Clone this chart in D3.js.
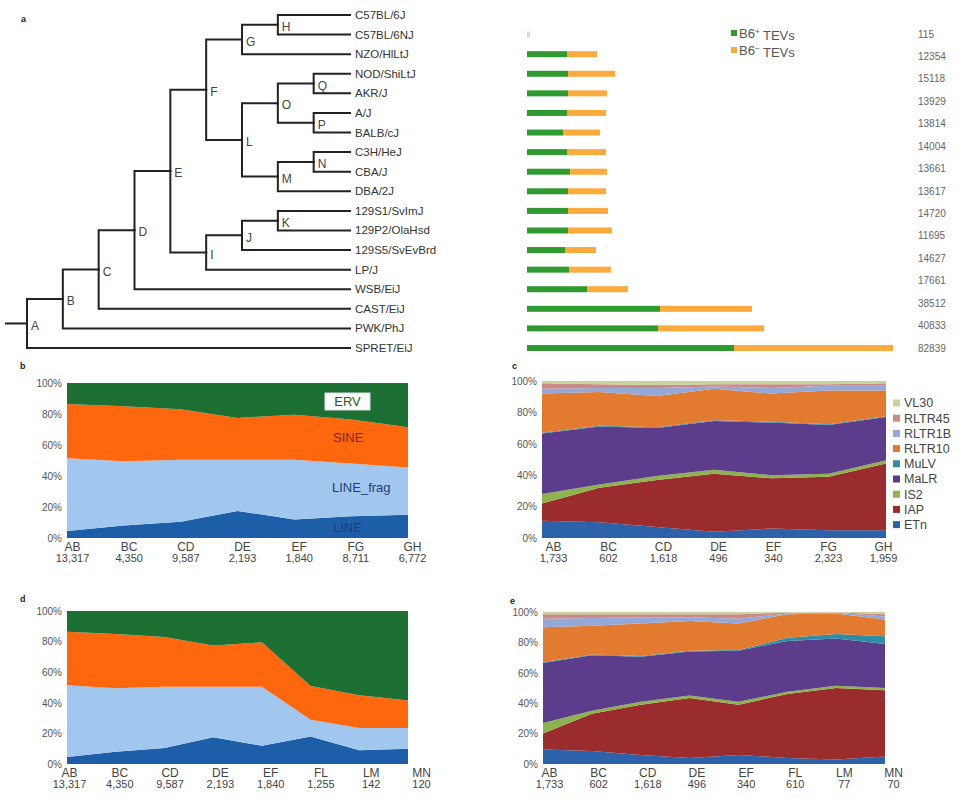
<!DOCTYPE html>
<html>
<head>
<meta charset="utf-8">
<script src="https://cdn.jsdelivr.net/npm/d3@7"></script>
<style>
  body { margin: 0; background: #fff; }
  svg { font-family: "Liberation Sans", Arial, sans-serif; }
</style>
</head>
<body>
<svg id="fig" width="963" height="797"></svg>
<script>
(function () {
  'use strict';

  // ── Panel a: strain tree + TEV bars ─────────────────────────────────────
  const strains = ['C57BL/6J', 'C57BL/6NJ', 'NZO/HlLtJ', 'NOD/ShiLtJ', 'AKR/J', 'A/J', 'BALB/cJ',
    'C3H/HeJ', 'CBA/J', 'DBA/2J', '129S1/SvImJ', '129P2/OlaHsd', '129S5/SvEvBrd', 'LP/J',
    'WSB/EiJ', 'CAST/EiJ', 'PWK/PhJ', 'SPRET/EiJ'];

  // [node, parent] — children listed top to bottom
  const treeLinks = [
    ['A', ''], ['B', 'A'], ['C', 'B'], ['D', 'C'], ['E', 'D'], ['F', 'E'], ['G', 'F'], ['H', 'G'],
    ['C57BL/6J', 'H'], ['C57BL/6NJ', 'H'], ['NZO/HlLtJ', 'G'],
    ['L', 'F'], ['O', 'L'], ['Q', 'O'], ['NOD/ShiLtJ', 'Q'], ['AKR/J', 'Q'],
    ['P', 'O'], ['A/J', 'P'], ['BALB/cJ', 'P'],
    ['M', 'L'], ['N', 'M'], ['C3H/HeJ', 'N'], ['CBA/J', 'N'], ['DBA/2J', 'M'],
    ['I', 'E'], ['J', 'I'], ['K', 'J'], ['129S1/SvImJ', 'K'], ['129P2/OlaHsd', 'K'],
    ['129S5/SvEvBrd', 'J'], ['LP/J', 'I'], ['WSB/EiJ', 'D'], ['CAST/EiJ', 'C'],
    ['PWK/PhJ', 'B'], ['SPRET/EiJ', 'A']
  ];

  const tevPlus  = [0, 340, 9050, 9280, 9280, 9050, 8150, 9050, 9730, 9280, 9280, 9280, 8600, 9500, 13580, 30100, 29650, 46840];
  const tevMinus = [0, 340, 6790, 10640, 8830, 8830, 8370, 8830, 8370, 8600, 9050, 9960, 7020, 9500, 9280, 20820, 23990, 35980];
  const tevTotals = ['115', '12354', '15118', '13929', '13814', '14004', '13661', '13617', '14720',
    '11695', '14627', '17661', '38512', '40833', '82839'];

  // ── Panels b/d: TE class proportions ────────────────────────────────────
  const classKeys = ['LINE', 'LINE_frag', 'SINE', 'ERV'];
  const classColors = { LINE: '#1d5ea9', LINE_frag: '#a2c7ee', SINE: '#ff670f', ERV: '#1d7033' };

  const bCats   = ['AB', 'BC', 'CD', 'DE', 'EF', 'FG', 'GH'];
  const bCounts = ['13,317', '4,350', '9,587', '2,193', '1,840', '8,711', '6,772'];
  const bLINE     = [4.5, 8, 10.5, 17.5, 12, 14, 15];
  const bLINEfrag = [47, 41.5, 40, 33, 38.5, 34, 30.5];
  const bSINE     = [35, 35.5, 32.5, 27, 29, 28.5, 26];
  const bERV      = [13.5, 15, 17, 22.5, 20.5, 23.5, 28.5];

  const dCats   = ['AB', 'BC', 'CD', 'DE', 'EF', 'FL', 'LM', 'MN'];
  const dCounts = ['13,317', '4,350', '9,587', '2,193', '1,840', '1,255', '142', '120'];
  const dLINE     = [4.5, 8, 10.5, 17.5, 12, 18, 9, 10];
  const dLINEfrag = [47, 41.5, 40, 33, 38.5, 11, 14.5, 13.5];
  const dSINE     = [35, 35.5, 32.5, 27, 29, 22, 21.5, 18];
  const dERV      = [13.5, 15, 17, 22.5, 20.5, 49, 55, 58.5];

  // ── Panels c/e: ERV family proportions ──────────────────────────────────
  const ervKeys = ['ETn', 'IAP', 'IS2', 'MaLR', 'MuLV', 'RLTR10', 'RLTR1B', 'RLTR45', 'VL30'];
  const ervColors = {
    ETn: '#2c62a9', IAP: '#9b2c2d', IS2: '#8db24e', MaLR: '#5b3d8c', MuLV: '#2f8ea4',
    RLTR10: '#e27b30', RLTR1B: '#94a9d8', RLTR45: '#c98a89', VL30: '#c6d49c'
  };

  const cCats   = ['AB', 'BC', 'CD', 'DE', 'EF', 'FG', 'GH'];
  const cCounts = ['1,733', '602', '1,618', '496', '340', '2,323', '1,959'];
  const cETn    = [11, 10, 7, 4, 6, 5, 5];
  const cIAP    = [11, 22, 30, 37, 32, 34, 42.5];
  const cIS2    = [6, 2, 2.5, 2.5, 2, 2, 2];
  const cMaLR   = [38.5, 37, 30.5, 31, 33.5, 31, 27.5];
  const cMuLV   = [0.5, 0.5, 0.5, 0.5, 0.5, 0.5, 0.5];
  const cRLTR10 = [25, 21.5, 20, 20, 18, 21.5, 16.5];
  const cRLTR1B = [3, 2.5, 5, 1.5, 3.5, 3, 3];
  const cRLTR45 = [3.5, 2.5, 2, 1.5, 2.5, 1, 1.5];
  const cVL30   = [1.5, 2, 2.5, 2, 2, 2, 1.5];

  const eCats   = ['AB', 'BC', 'CD', 'DE', 'EF', 'FL', 'LM', 'MN'];
  const eCounts = ['1,733', '602', '1,618', '496', '340', '610', '77', '70'];
  const eETn    = [9.5, 8.5, 6, 4, 6, 4, 3, 5];
  const eIAP    = [10.5, 24.5, 33, 39.5, 33, 42, 47, 43.5];
  const eIS2    = [7, 2, 2, 1.5, 2, 1.5, 1.5, 1.5];
  const eMaLR   = [39.5, 36.5, 29.5, 29, 33.5, 33.5, 31, 29];
  const eMuLV   = [0.5, 0.5, 0.5, 0.5, 0.5, 2, 3, 5];
  const eRLTR10 = [23, 19, 21.5, 19.5, 17.5, 15.5, 13.5, 11];
  const eRLTR1B = [5.5, 5, 4, 2.5, 3, 0.5, 0.5, 2];
  const eRLTR45 = [3, 2.5, 2, 2, 3, 0.5, 0.3, 1.5];
  const eVL30   = [1.5, 1.5, 1.5, 1.5, 1.5, 0.5, 0.2, 1.5];

  const svg = d3.select('#fig');

  function panelLetter(t, x, y) {
    svg.append('text').attr('x', x).attr('y', y).text(t)
      .attr('font-size', 9).attr('font-weight', 700).attr('fill', '#222');
  }

  // ── Tree ────────────────────────────────────────────────────────────────
  const root = d3.stratify().id(d => d[0]).parentId(d => d[1] || null)(treeLinks);
  const yLeaf = d3.scalePoint().domain(strains).range([15, 348]);
  const xDepth = d3.scaleLinear().domain([0, 9]).range([27, 349.5]);
  const leafEnd = 350;

  root.eachAfter(n => {
    if (n.children) n.y = d3.mean(n.children, c => c.y);
    else n.y = yLeaf(n.id);
    n.x = n.children ? xDepth(n.depth) : leafEnd;
  });

  const tree = svg.append('g');
  tree.selectAll('path.edge')
    .data(root.descendants().filter(n => n.parent))
    .join('path')
    .attr('class', 'edge')
    .attr('d', n => `M${n.parent.x},${n.parent.y}V${n.y}H${n.x}`)
    .attr('fill', 'none').attr('stroke', '#222').attr('stroke-width', 2)
    .attr('stroke-linecap', 'square');
  tree.append('path')
    .attr('d', `M5,${root.y}H${root.x}`)
    .attr('stroke', '#222').attr('stroke-width', 2);

  tree.selectAll('text.node')
    .data(root.descendants().filter(n => n.children))
    .join('text')
    .attr('x', n => n.x + 4).attr('y', n => n.y + 2)
    .attr('dy', '0.35em')
    .attr('font-size', 12).attr('fill', '#444')
    .text(n => n.id);

  tree.selectAll('text.leaf')
    .data(root.leaves())
    .join('text')
    .attr('x', leafEnd + 5).attr('y', n => n.y)
    .attr('dy', '0.35em')
    .attr('font-size', 11.5).attr('fill', '#333')
    .text(n => n.id);

  // ── TEV bars ────────────────────────────────────────────────────────────
  const barX = d3.scaleLinear()
    .domain([0, d3.max(strains, (s, i) => tevPlus[i] + tevMinus[i])])
    .range([527, 893]);
  const barH = 6;
  const bars = svg.append('g');
  strains.forEach((s, i) => {
    if (tevPlus[i] + tevMinus[i] === 0) return;
    const y = yLeaf(s) - barH / 2;
    const faint = tevPlus[i] + tevMinus[i] < 1000;   // C57BL/6NJ: barely visible grey stub
    bars.append('rect').attr('x', barX(0)).attr('y', y)
      .attr('width', barX(tevPlus[i]) - barX(0)).attr('height', barH)
      .attr('fill', faint ? '#d4d4d4' : '#2f9a2f');
    bars.append('rect').attr('x', barX(tevPlus[i])).attr('y', y)
      .attr('width', barX(tevPlus[i] + tevMinus[i]) - barX(tevPlus[i])).attr('height', barH)
      .attr('fill', faint ? '#d4d4d4' : '#fbaa3c');
  });

  const yTot = d3.scalePoint().domain(tevTotals.map((t, i) => i)).range([34, 348]);
  svg.append('g').selectAll('text')
    .data(tevTotals)
    .join('text')
    .attr('x', 918).attr('y', (t, i) => yTot(i))
    .attr('dy', '0.35em')
    .attr('font-size', 10).attr('fill', '#666')
    .text(t => t);

  // legend a
  const legA = svg.append('g').attr('transform', 'translate(731,33)');
  [['#2f9a2f', '+'], ['#fbaa3c', '\u2212']].forEach(([col, sign], i) => {
    const row = legA.append('g').attr('transform', `translate(0,${i * 17})`);
    row.append('rect').attr('x', 0).attr('y', -3).attr('width', 6).attr('height', 6).attr('fill', col);
    const t = row.append('text').attr('x', 8).attr('dy', '0.35em')
      .attr('font-size', 13).attr('fill', '#555');
    t.append('tspan').text('B6');
    t.append('tspan').attr('dy', '-0.45em').attr('font-size', 8).text(sign);
    t.append('tspan').attr('dy', '0.45em').text(' TEVs');
  });

  panelLetter('a', 21, 22);

  // ── Stacked proportion charts ───────────────────────────────────────────
  function drawStack(cfg) {
    const rows = cfg.cats.map((c, i) => {
      const r = { cat: c };
      cfg.keys.forEach(k => { r[k] = cfg.values[k][i]; });
      return r;
    });
    const layers = d3.stack().keys(cfg.keys).offset(d3.stackOffsetExpand)(rows);
    const x = d3.scalePoint().domain(cfg.cats).range([cfg.x0, cfg.x1]);
    const y = d3.scaleLinear().domain([0, 1]).range([cfg.y1, cfg.y0]);
    const area = d3.area()
      .x(d => x(d.data.cat))
      .y0(d => y(d[0]))
      .y1(d => y(d[1]));

    const g = svg.append('g');
    g.selectAll('path.layer')
      .data(layers)
      .join('path')
      .attr('class', 'layer')
      .attr('fill', d => cfg.colors[d.key])
      .attr('d', area);

    g.append('g')
      .attr('transform', `translate(${cfg.x0},0)`)
      .call(d3.axisLeft(y).tickValues([0, 0.2, 0.4, 0.6, 0.8, 1]).tickFormat(d3.format('.0%')).tickSize(0).tickPadding(5))
      .call(ax => ax.select('.domain').remove())
      .call(ax => ax.selectAll('text').attr('font-size', 10).attr('fill', '#555')
        .attr('font-family', '"Liberation Sans", Arial, sans-serif'));

    const xl = d3.scalePoint().domain(cfg.cats).range(cfg.labelRange);
    const axX = g.append('g')
      .attr('transform', `translate(0,${cfg.y1})`)
      .call(d3.axisBottom(xl).tickSize(0).tickPadding(4));
    axX.select('.domain').remove();
    axX.selectAll('.tick text').each(function (d, i) {
      const t = d3.select(this).text(null)
        .attr('fill', '#444').attr('font-family', '"Liberation Sans", Arial, sans-serif');
      t.append('tspan').attr('x', 0).attr('dy', '0.71em').attr('font-size', 12).text(d);
      t.append('tspan').attr('x', 0).attr('dy', '1.05em').attr('font-size', 11).text(cfg.counts[i]);
    });
    return { g, x, y };
  }

  const b = drawStack({
    cats: bCats, counts: bCounts, keys: classKeys, colors: classColors,
    values: { LINE: bLINE, LINE_frag: bLINEfrag, SINE: bSINE, ERV: bERV },
    x0: 67, x1: 408, y0: 383, y1: 538, labelRange: [72, 412]
  });
  panelLetter('b', 20, 369);

  // in-chart class labels
  const bl = b.g.append('g').attr('font-size', 13);
  bl.append('rect').attr('x', 325).attr('y', 393).attr('width', 45).attr('height', 17)
    .attr('fill', '#fff').attr('stroke', '#ddd');
  bl.append('text').attr('x', 347.5).attr('y', 401.5).attr('dy', '0.35em')
    .attr('text-anchor', 'middle').attr('fill', '#1d5a2a').text('ERV');
  bl.append('text').attr('x', 333).attr('y', 437).attr('dy', '0.35em').attr('fill', '#7a2a05').text('SINE');
  bl.append('text').attr('x', 332).attr('y', 487).attr('dy', '0.35em').attr('fill', '#1d3c78').text('LINE_frag');
  bl.append('text').attr('x', 333).attr('y', 527).attr('dy', '0.35em').attr('fill', '#1d3c78').text('LINE');

  drawStack({
    cats: cCats, counts: cCounts, keys: ervKeys, colors: ervColors,
    values: { ETn: cETn, IAP: cIAP, IS2: cIS2, MaLR: cMaLR, MuLV: cMuLV,
      RLTR10: cRLTR10, RLTR1B: cRLTR1B, RLTR45: cRLTR45, VL30: cVL30 },
    x0: 542, x1: 886, y0: 381, y1: 538, labelRange: [553, 883]
  });
  panelLetter('c', 512, 369);

  // legend c (top-down order: VL30 ... ETn)
  const legC = svg.append('g').attr('transform', 'translate(893,403)');
  ervKeys.slice().reverse().forEach((k, i) => {
    const row = legC.append('g').attr('transform', `translate(0,${i * 15.2})`);
    row.append('rect').attr('x', 0).attr('y', -3.5).attr('width', 7).attr('height', 7).attr('fill', ervColors[k]);
    row.append('text').attr('x', 11).attr('dy', '0.35em')
      .attr('font-size', 12.5).attr('fill', '#444').text(k);
  });

  drawStack({
    cats: dCats, counts: dCounts, keys: classKeys, colors: classColors,
    values: { LINE: dLINE, LINE_frag: dLINEfrag, SINE: dSINE, ERV: dERV },
    x0: 67, x1: 408, y0: 611, y1: 764, labelRange: [69, 421]
  });
  panelLetter('d', 20, 602);

  drawStack({
    cats: eCats, counts: eCounts, keys: ervKeys, colors: ervColors,
    values: { ETn: eETn, IAP: eIAP, IS2: eIS2, MaLR: eMaLR, MuLV: eMuLV,
      RLTR10: eRLTR10, RLTR1B: eRLTR1B, RLTR45: eRLTR45, VL30: eVL30 },
    x0: 543, x1: 885, y0: 612, y1: 764, labelRange: [549, 893]
  });
  panelLetter('e', 510, 604);
})();
</script>
</body>
</html>
